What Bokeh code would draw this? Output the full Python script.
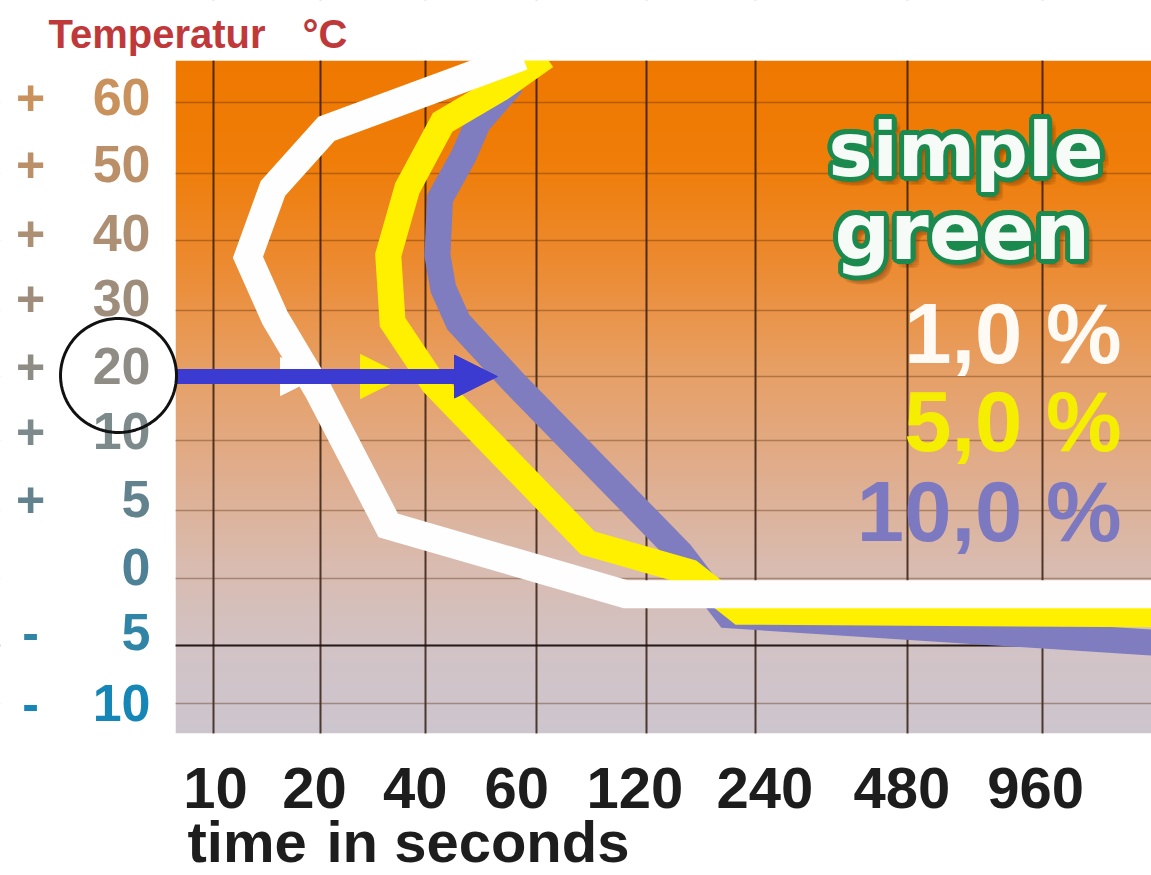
import numpy as np
from bokeh.plotting import figure
from bokeh.models import (Range1d, FixedTicker, Grid, LabelSet,
                          ColumnDataSource, Arrow, NormalHead, PolyAnnotation)
from bokeh.core.properties import value
from bokeh.embed import file_html
from bokeh.resources import INLINE

# ---------------- data ----------------
time_ticks = [10, 20, 40, 60, 120, 240, 480, 960]            # seconds
time_labels = ["10", "20", "40", "60", "120", "240", "480", "960"]
temp_ticks = [60, 50, 40, 30, 20, 10, 5, 0, -5, -10]         # degrees C
temp_labels = ["60", "50", "40", "30", "20", "10", "5", "0", "5", "10"]
temp_signs = ["+", "+", "+", "+", "+", "+", "+", "", "-", "-"]
series_names = ["1,0 %", "5,0 %", "10,0 %"]

# 1,0 % solution
white_time = [57, 20.8, 14.7, 12.5, 14.9, 19.7, 31.3, 105, 1760]
white_temp = [66.5, 56.3, 47.8, 37.6, 28.8, 17.8, 3.9, -1.2, -1.2]
# 5,0 % solution
yellow_time = [63.5, 52.6, 42.6, 35.5, 31.3, 32.2, 41.2, 82.7, 158, 217, 1760]
yellow_temp = [66.5, 62.0, 57.2, 47.8, 37.9, 28.2, 18.9, 2.6, 0.44, -2.5, -2.7]
# 10,0 % solution
purple_time = [55.0, 48.5, 46.0, 42.2, 41.8, 42.7, 45.1, 55.2, 148.7, 201, 1760]
purple_temp = [62.8, 57.2, 52.5, 46.3, 37.9, 33.1, 28.2, 19.1, 1.84, -2.76, -4.85]

# ---------------- layout of the hand drawn grid ----------------
# column / row positions of the ticks in grid units (1 x-unit = 107 px, 1 y-unit = 67 px)
TIME_GRID = [0.0, 1.0, 1.98, 3.02, 4.05, 5.07, 6.49, 7.75]
TEMP_GRID = [8.97, 7.91, 6.91, 5.87, 4.88, 3.93, 2.88, 1.87, 0.87, 0.0]
PX_X, PX_Y = 107.0, 67.0
FIG_W, FIG_H = 1151, 875


def piecewise(v, xp, fp):
    v = np.atleast_1d(np.asarray(v, float))
    xp = np.asarray(xp, float)
    fp = np.asarray(fp, float)
    out = np.interp(v, xp, fp)
    lo, hi = v < xp[0], v > xp[-1]
    out[lo] = fp[0] + (v[lo] - xp[0]) * (fp[1] - fp[0]) / (xp[1] - xp[0])
    out[hi] = fp[-1] + (v[hi] - xp[-1]) * (fp[-1] - fp[-2]) / (xp[-1] - xp[-2])
    return out


def time_to_x(t):
    return piecewise(np.log(t), np.log(time_ticks), TIME_GRID)


def temp_to_y(c):
    return piecewise(c, temp_ticks[::-1], TEMP_GRID[::-1])


# page layout helpers (page pixels -> grid units)
def ax(px):
    return (px - 213) / PX_X


def ay(py):
    return (703 - py) / PX_Y


PL, PR, PT, PB = 175, 1151, 60, 733      # plotting area on the page

p = figure(width=FIG_W, height=FIG_H, x_range=Range1d(ax(0), ax(FIG_W)),
           y_range=Range1d(ay(FIG_H), ay(0)), x_axis_location=None, y_axis_location=None,
           output_backend="svg", toolbar_location=None, title=None, min_border=0,
           outline_line_color=None, background_fill_color="white",
           border_fill_color="white")
for g in p.grid:                       # no default grid
    g.visible = False

# ---------------- background gradient (one image) ----------------
stops_t = [0.0, 0.15, 0.30, 0.45, 0.60, 0.75, 0.88, 1.0]
stops_c = ["#ef7800", "#ef7d08", "#ec8a30", "#e79e62", "#e0ac8a", "#d9bbb0", "#d1c3c6", "#cdc5ce"]
rgb = np.array([[int(c[i:i + 2], 16) for i in (1, 3, 5)] for c in stops_c], float)
H = PB - PT
img = np.empty((H, 1), dtype=np.uint32)
view = img.view(dtype=np.uint8).reshape((H, 1, 4))
tt = 1.0 - (np.arange(H) + 0.5) / H          # row 0 is the bottom of the image
for k in range(3):
    view[:, 0, k] = np.round(np.interp(tt, stops_t, rgb[:, k])).astype(np.uint8)
view[:, 0, 3] = 255
p.image_rgba(image=[img], x=ax(PL), y=ay(PB), dw=ax(PR + 5) - ax(PL), dh=ay(PT) - ay(PB),
             level="image")

# ---------------- grid ----------------
p.add_layout(Grid(dimension=0, ticker=FixedTicker(ticks=TIME_GRID), grid_line_color="#2a1408",
                  grid_line_alpha=0.8, grid_line_width=2))
p.add_layout(Grid(dimension=1, ticker=FixedTicker(ticks=TEMP_GRID), grid_line_color="#5a2a08",
                  grid_line_alpha=0.38, grid_line_width=1.5))
p.add_layout(Grid(dimension=1, ticker=FixedTicker(ticks=[float(temp_to_y(-5)[0])]),
                  grid_line_color="#1a1010", grid_line_alpha=0.9, grid_line_width=2))

# ---------------- curves ----------------
p.line(time_to_x(purple_time), temp_to_y(purple_temp), line_width=26, line_color="#7f7cc0",
       line_join="miter", line_cap="butt")
p.line(time_to_x(yellow_time), temp_to_y(yellow_temp), line_width=26, line_color="#fff000",
       line_join="miter", line_cap="butt")
p.line(time_to_x(white_time), temp_to_y(white_temp), line_width=28, line_color="#fefefe",
       line_join="miter", line_cap="butt")

# white page outside the plotting area
p.quad(left=[ax(-200), ax(PL), ax(PL)], right=[ax(PL), ax(1300), ax(1300)],
       top=[ay(-200), ay(-200), ay(PB)], bottom=[ay(1000), ay(PT), ay(1000)],
       fill_color="white", line_color=None)


def add_texts(xs, ys, texts, colors, size, font="Liberation Sans", align="left",
              dx=None, dy=None, alpha=None):
    n = len(texts)
    cols = colors if isinstance(colors, list) else [colors] * n
    data = dict(x=list(xs), y=list(ys), text=list(texts), col=cols,
                dx=list(dx) if dx is not None else [0] * n,
                dy=list(dy) if dy is not None else [0] * n,
                al=list(alpha) if alpha is not None else [1.0] * n)
    p.add_layout(LabelSet(x="x", y="y", text="text", x_offset="dx", y_offset="dy",
                          text_color="col", text_alpha="al", text_align=align,
                          text_baseline="alphabetic", text_font=value(font),
                          text_font_style="bold", text_font_size=f"{size}px",
                          source=ColumnDataSource(data)))


# ---------------- x tick labels and axis title ----------------
add_texts(TIME_GRID, [ay(807)] * 8, time_labels, "#1d1d1d", 58, align="center",
          dx=[2, -6, -10, -20, -12, 9, -6, -7])
add_texts([ax(187), ax(326)], [ay(861)] * 2, ["time", "in seconds"], "#1d1d1d", 58)

# ---------------- arrows ----------------
y20 = float(temp_to_y(20)[0])
p.add_layout(Arrow(end=NormalHead(size=38, fill_color="#fefefe", line_color="#fefefe"),
                   x_start=ax(PL), y_start=y20, x_end=ax(318), y_end=y20, line_alpha=0))
p.add_layout(Arrow(end=NormalHead(size=44, fill_color="#fff000", line_color="#fff000"),
                   x_start=ax(PL), y_start=y20, x_end=ax(404), y_end=y20, line_alpha=0))
p.add_layout(Arrow(end=NormalHead(size=43, fill_color="#3b3bd2", line_color="#3b3bd2"),
                   x_start=ax(PL), y_start=y20, x_end=ax(497), y_end=y20,
                   line_width=15, line_color="#3b3bd2"))

# ---------------- y labels ----------------
label_cols = ["#c9925c", "#bb9068", "#ad8f74", "#9f8d7c", "#8f8c86", "#7d8a8b", "#62828e",
              "#4f8196", "#3084a6", "#1686b6"]
yoff = [-12, -8, -10, -6, -7, -9, -6, -7, -5, -17]
add_texts([ax(150)] * 10, TEMP_GRID, temp_labels, label_cols, 52, align="right", dy=yoff)
add_texts([ax(30)] * 10, TEMP_GRID, temp_signs, label_cols, 50, align="center", dy=yoff)

# circle around +20
th = np.linspace(0, 2 * np.pi, 90)
p.add_layout(PolyAnnotation(xs=list(ax(118) + 58 / PX_X * np.cos(th)),
                            ys=list(ay(375) + 57 / PX_Y * np.sin(th)),
                            fill_alpha=0, line_color="#111111", line_alpha=1.0, line_width=3))

# ---------------- y title ----------------
add_texts([ax(48), ax(302)], [ay(47)] * 2, ["Temperatur", "°C"], "#c0393a", 40)


# ---------------- logo ----------------
def outlined(text, px, py, size):
    sh = np.linspace(0, 2 * np.pi, 10, endpoint=False)
    ol = np.linspace(0, 2 * np.pi, 16, endpoint=False)
    dx = list(5 + 4 * np.cos(sh)) + list(5 * np.cos(ol)) + [0]
    dy = list(-6 + 4 * np.sin(sh)) + list(5 * np.sin(ol)) + [0]
    cols = ["#5a2a00"] * 10 + ["#1b8a4e"] * 16 + ["#f6fbf8"]
    al = [0.08] * 10 + [1.0] * 17
    n = len(dx)
    add_texts([ax(px)] * n, [ay(py)] * n, [text] * n, cols, size, font="DejaVu Sans",
              dx=dx, dy=dy, alpha=al)


outlined("simple", 828, 175, 74)
outlined("green", 834, 258, 78)

# ---------------- legend texts ----------------
add_texts([ax(1121)] * 3, [ay(362), ay(450), ay(540)], series_names,
          ["#fffaf4", "#f6ee00", "#7d79c0"], 85, align="right")

open("out.html", "w").write(file_html(p, INLINE))
